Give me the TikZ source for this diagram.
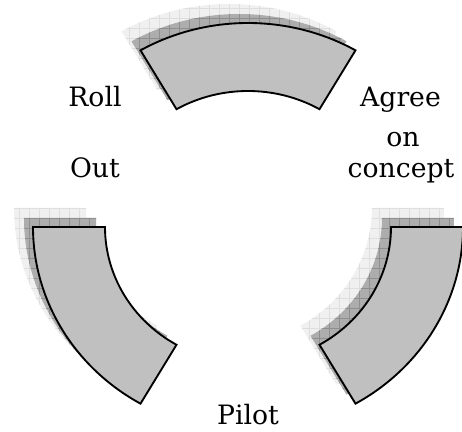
\documentclass[tikz,border=0pt]{standalone}
\usepackage{fontspec}
\setmainfont{DejaVu Serif}
\definecolor{secfill}{HTML}{C0C0C0}
\definecolor{shlight}{HTML}{F0F0F0}
\definecolor{shlightgrid}{HTML}{DEDEDE}
\definecolor{shdark}{HTML}{ADADAD}
\definecolor{shdarkgrid}{HTML}{8E8E8E}
\newcommand\secpath[2]{(#1:215 and 204) arc[start angle=#1, end angle=#2, x radius=215, y radius=204] -- (#2:143 and 136) arc[start angle=#2, end angle=#1, x radius=143, y radius=136] -- cycle}
\newcommand\shadowsector[2]{%
  \begin{scope}[shift={(-19,19)}]
    \begin{scope}
      \clip \secpath{#1}{#2};
      \fill[shlight] (-300,-300) rectangle (300,300);
      \draw[shlightgrid, line width=0.4pt, step=10] (-300,-300) grid (300,300);
    \end{scope}
  \end{scope}
  \begin{scope}[shift={(-9,9)}]
    \begin{scope}
      \clip \secpath{#1}{#2};
      \fill[shdark] (-300,-300) rectangle (300,300);
      \draw[shdarkgrid, line width=0.4pt, step=10] (-300,-300) grid (300,300);
    \end{scope}
  \end{scope}
  \draw[mainsec] \secpath{#1}{#2};
}
\tikzset{
  mainsec/.style={fill=secfill, draw=black, line width=1.4pt, line join=miter},
  lbl/.style={font=\fontsize{20}{24}\selectfont, anchor=base, inner sep=0pt},
}
\begin{document}
\begin{tikzpicture}[x=0.75pt, y=0.75pt]
  \clip (0,0) rectangle (462,432);
  \fill[white] (0,0) rectangle (462,432);
  \begin{scope}[shift={(248,205)}]
    \shadowsector{60}{120}
    \shadowsector{180}{240}
    \shadowsector{300}{360}
  \end{scope}
  \node[lbl] (agree) at (400.5,325) {Agree};
  \node[lbl] (on) at (403,285) {on};
  \node[lbl] (concept) at (401,254) {concept};
  \node[lbl] (roll) at (95,325) {Roll};
  \node[lbl] (out) at (95,254) {Out};
  \node[lbl] (pilot) at (248,7) {Pilot};
\end{tikzpicture}
\end{document}
